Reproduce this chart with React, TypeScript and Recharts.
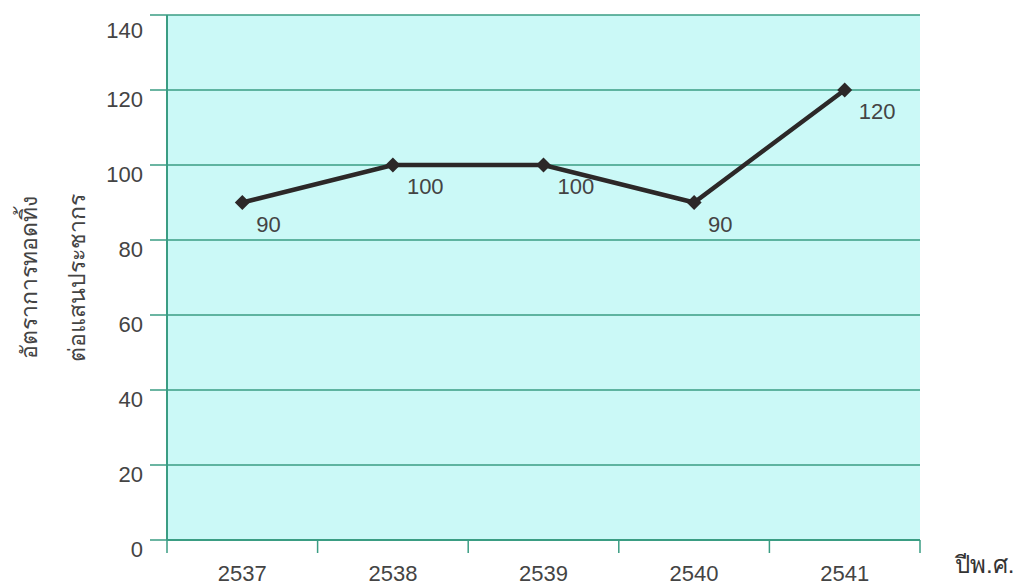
import React from 'react';
import { ComposedChart, Line, XAxis, YAxis, CartesianGrid, LabelList, Label } from 'recharts';

const years = ['2537', '2538', '2539', '2540', '2541'];
const rates = [90, 100, 100, 90, 120];
const yTicks = [0, 20, 40, 60, 80, 100, 120, 140];
const yTitle = ['อัตราการทอดทิ้ง', 'ต่อแสนประชากร'];
const xUnit = 'ปีพ.ศ.';

const data = years.map((year, i) => ({ year, rate: rates[i] }));

const TEAL = '#3a9d83';
const TEXT = '#444';
const FONT = '"Liberation Sans", Arial, sans-serif';

const Diamond = (props: any) => {
  const { cx, cy } = props;
  if (cx == null || cy == null) return null;
  const r = 7.5;
  return <path d={`M${cx},${cy - r}L${cx + r},${cy}L${cx},${cy + r}L${cx - r},${cy}Z`} fill="#2c2828" />;
};

const ValueLabel = (props: any) => {
  const { x, y, value } = props;
  return (
    <text x={x + 14} y={y + 29} fill={TEXT} fontSize={22} fontFamily={FONT}>
      {value}
    </text>
  );
};

// category label at band centre, tick marks at band edges
const YearTick = (props: any) => {
  const { x, y, payload, index } = props;
  const half = payload && payload.offset ? payload.offset : 0;
  const last = index === years.length - 1;
  return (
    <g>
      <line x1={x - half} x2={x - half} y1={y} y2={y + 13} stroke={TEAL} strokeWidth={1.5} />
      {last && <line x1={x + half} x2={x + half} y1={y} y2={y + 13} stroke={TEAL} strokeWidth={1.5} />}
      <text x={x} y={y + 25} dy="0.71em" textAnchor="middle" fill={TEXT} fontSize={22} fontFamily={FONT}>
        {payload.value}
      </text>
    </g>
  );
};

const YTitle = (props: any) => {
  const { viewBox } = props;
  const cy = viewBox.y + viewBox.height / 2;
  return (
    <g fill={TEXT} fontSize={23} fontFamily={FONT}>
      <text transform={`translate(29,${cy}) rotate(-90)`} textAnchor="middle">{yTitle[0]}</text>
      <text transform={`translate(77,${cy}) rotate(-90)`} textAnchor="middle">{yTitle[1]}</text>
    </g>
  );
};

const XUnit = (props: any) => {
  const { viewBox } = props;
  return (
    <text x={viewBox.x + viewBox.width + 35} y={viewBox.y + 33} fill="#333" fontSize={24} fontFamily={FONT}>
      {xUnit}
    </text>
  );
};

export default function App() {
  return (
    <div style={{ width: 1021, height: 577, background: '#fff' }}>
      <ComposedChart width={1021} height={577} data={data} margin={{ top: 7, right: 109, left: 0, bottom: 0 }}>
        <CartesianGrid vertical={false} stroke={TEAL} strokeWidth={1.5} fill="#cbf9f7" fillOpacity={1} yAxisId="left" />
        <XAxis
          dataKey="year"
          scale="band"
          tickLine={false}
          tickSize={0}
          tickMargin={0}
          axisLine={{ stroke: TEAL, strokeWidth: 2 }}
          tick={<YearTick />}
          interval={0}
          height={45}
        >
          <Label content={XUnit} />
        </XAxis>
        <YAxis
          yAxisId="left"
          domain={[0, 140]}
          ticks={yTicks}
          width={159}
          tickSize={17}
          tickMargin={7}
          tickLine={{ stroke: TEAL, strokeWidth: 1.5 }}
          axisLine={{ stroke: TEAL, strokeWidth: 2 }}
          tick={{ fill: TEXT, fontSize: 22, fontFamily: FONT, dy: 9 }}
        >
          <Label content={YTitle} />
        </YAxis>
        <YAxis
          yAxisId="right"
          orientation="right"
          domain={[0, 140]}
          width={0}
          tick={false}
          tickLine={false}
          axisLine={{ stroke: TEAL, strokeWidth: 2 }}
        />
        <Line
          yAxisId="left"
          dataKey="rate"
          stroke="#2c2828"
          strokeWidth={4.5}
          dot={<Diamond />}
          activeDot={false}
          isAnimationActive={false}
        >
          <LabelList dataKey="rate" content={ValueLabel} />
        </Line>
      </ComposedChart>
    </div>
  );
}
